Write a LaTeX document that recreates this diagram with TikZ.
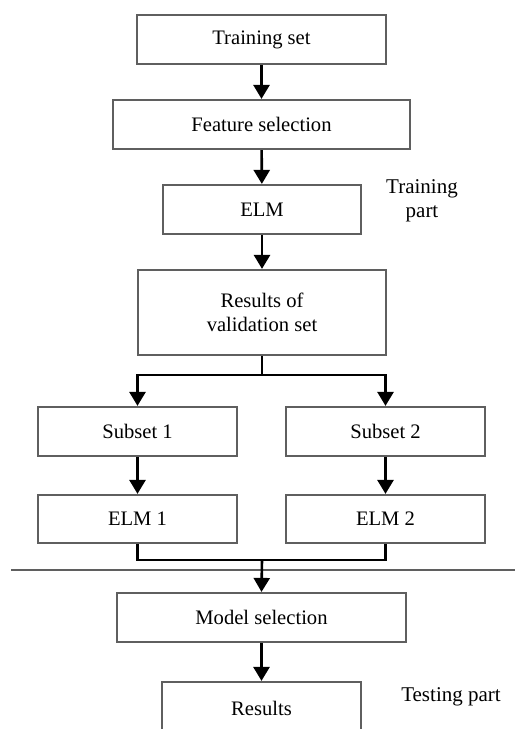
\documentclass[tikz,border=0pt]{standalone}
\usepackage{fontspec}
\setmainfont{Liberation Serif}
\usetikzlibrary{arrows.meta}
\definecolor{boxgray}{RGB}{95,95,95}
\begin{document}
\begin{tikzpicture}[x=1pt,y=-1pt,
  box/.style={draw=boxgray, line width=2.2pt, inner sep=0pt, align=center,
    font=\fontsize{20.6}{24}\selectfont},
  conn/.style={black, line width=2.6pt},
  arr/.style={conn, -{Triangle[length=14pt,width=16pt]}},
  lbl/.style={align=center, font=\fontsize{21}{24}\selectfont, inner sep=0pt}]
\useasboundingbox (0,0) rectangle (515,729);
\node[box, minimum width=249pt, minimum height=49pt] (ts) at (261.5,39.5) {Training set};
\node[box, minimum width=297pt, minimum height=49pt] (fs) at (261.5,124.5) {Feature selection};
\node[box, minimum width=198pt, minimum height=49pt] (elm) at (262,209.5) {ELM};
\node[box, minimum width=248pt, minimum height=85pt] (rv) at (262,312.5) {Results of\\validation set};
\node[box, minimum width=199pt, minimum height=49pt] (s1) at (137.5,431.5) {Subset 1};
\node[box, minimum width=199pt, minimum height=49pt] (s2) at (385.5,431.5) {Subset 2};
\node[box, minimum width=199pt, minimum height=48pt] (e1) at (137.5,519) {ELM 1};
\node[box, minimum width=199pt, minimum height=48pt] (e2) at (385.5,519) {ELM 2};
\node[box, minimum width=289pt, minimum height=49pt] (ms) at (261.5,617.5) {Model selection};
\node[box, minimum width=199pt, minimum height=52pt] (res) at (261.5,708) {Results};
\node[lbl] (tp) at (422,201) {Training\\part};
\node[lbl] (tsp) at (451,697) {Testing part};
\coordinate (b) at (262,375);
\coordinate (m) at (262,560);
\coordinate (dl) at (11,570);
\coordinate (dr) at (515,570);
\draw[boxgray, line width=2.2pt] (dl) -- (dr);
\draw[arr] (ts) -- (fs);
\draw[arr] (fs) -- (elm);
\draw[arr] (elm) -- (rv);
\draw[conn] (rv.south) -- (b);
\draw[arr] (b) -| (s1.north);
\draw[arr] (b) -| (s2.north);
\draw[arr] (s1) -- (e1);
\draw[arr] (s2) -- (e2);
\draw[conn, line join=miter] (e1.south) |- (m) -| (e2.south);
\draw[arr] (m) -- (ms.north);
\draw[arr] (ms) -- (res);
\end{tikzpicture}
\end{document}
